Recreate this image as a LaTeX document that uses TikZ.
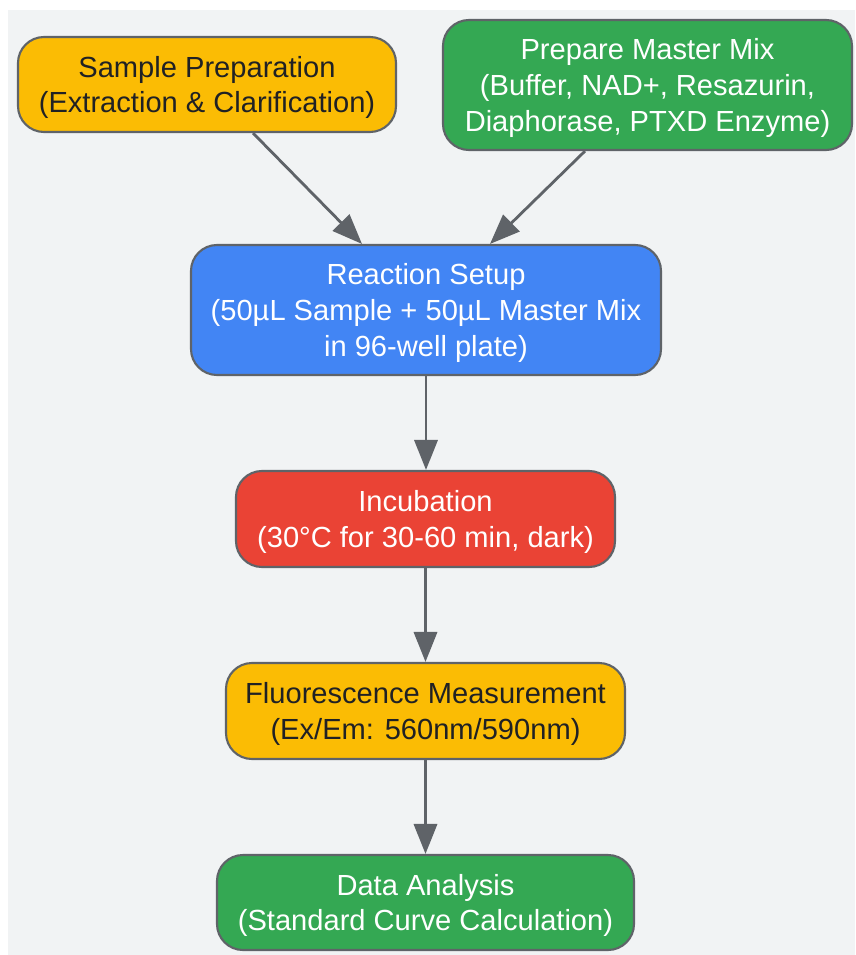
\documentclass[tikz,border=0pt]{standalone}
\usepackage{fontspec}
\setmainfont{Liberation Sans}
\usetikzlibrary{arrows.meta}
\definecolor{bggray}{HTML}{F1F3F4}
\definecolor{edgegray}{HTML}{5F6368}
\definecolor{gyellow}{HTML}{FBBC04}
\definecolor{ggreen}{HTML}{34A853}
\definecolor{gblue}{HTML}{4285F4}
\definecolor{gred}{HTML}{EA4335}
\definecolor{darktext}{HTML}{202124}
\tikzset{
  stepbox/.style={draw=edgegray, line width=1.5pt, rounded corners=0.65cm,
    align=center, font=\fontsize{20.7}{25.5}\selectfont, inner sep=0pt,
    text depth=0pt},
  flow/.style={draw=edgegray, line width=2pt,
    -{Triangle[length=0.75cm,width=0.58cm]}},
}
\begin{document}
\begin{tikzpicture}[scale=1.0]
\useasboundingbox (0,0) rectangle (21.375,-23.875);
\fill[bggray] (0.2,-0.25) rectangle (21.375,-23.875);
% sample preparation
\node[stepbox, fill=gyellow, text=darktext, minimum width=9.45cm, minimum height=2.375cm]
  (sample) at (5.175,-2.1125) {Sample Preparation\\(Extraction \& Clarification)};
% master mix
\node[stepbox, fill=ggreen, text=white, minimum width=10.225cm, minimum height=3.25cm]
  (master) at (16.1875,-2.125) {Prepare Master Mix\\(Buffer, NAD+, Resazurin,\\Diaphorase, PTXD Enzyme)};
% reaction setup
\node[stepbox, fill=gblue, text=white, minimum width=11.75cm, minimum height=3.25cm]
  (reaction) at (10.65,-7.75) {Reaction Setup\\(50µL Sample + 50µL Master Mix\\in 96-well plate)};
\draw[flow] ([xshift=1.15cm]sample.south) -- ([xshift=-1.6cm]reaction.north);
\draw[flow] ([xshift=-1.5625cm]master.south) -- ([xshift=1.6cm]reaction.north);
% incubation
\node[stepbox, fill=gred, text=white, minimum width=9.475cm, minimum height=2.4cm]
  (incub) at (10.6375,-12.975) {Incubation\\(30°C for 30-60 min, dark)};
\draw[flow] (reaction.south) -- (reaction.south |- incub.north);
% fluorescence measurement
\node[stepbox, fill=gyellow, text=darktext, minimum width=9.975cm, minimum height=2.4cm]
  (fluor) at (10.6375,-17.775) {Fluorescence Measurement\\(Ex/Em: 560nm/590nm)};
\draw[flow] (incub.south) -- (fluor.north);
% data analysis
\node[stepbox, fill=ggreen, text=white, minimum width=10.425cm, minimum height=2.375cm]
  (data) at (10.6375,-22.5625) {Data Analysis\\(Standard Curve Calculation)};
\draw[flow] (fluor.south) -- (data.north);
\end{tikzpicture}
\end{document}
